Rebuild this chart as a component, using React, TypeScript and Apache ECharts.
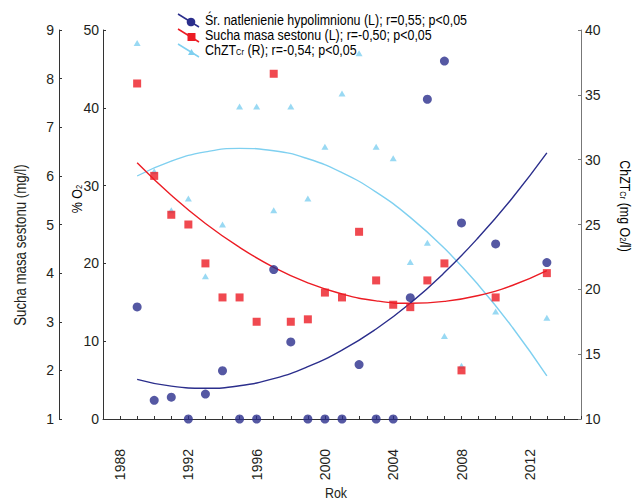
import React, { useEffect, useRef } from "react";
import * as echarts from "echarts";

const FONT = "'Liberation Sans', Arial, sans-serif";

// Measured data (years)
const years = [1989, 1990, 1991, 1992, 1993, 1994, 1995, 1996, 1997, 1998, 1999, 2000, 2001, 2002, 2003, 2004, 2005, 2006, 2007, 2008, 2010, 2013];
// Średnie natlenienie hypolimnionu, % O2 (left inner axis)
const oxygen = [14.4, 2.4, 2.8, 0, 3.2, 6.2, 0, 0, 19.2, 9.9, 0, 0, 0, 7.0, 0, 0, 15.6, 41.1, 46.0, 25.2, 22.5, 20.1];
// Sucha masa sestonu, mg/l (left outer axis)
const seston = [7.9, 6.0, 5.2, 5.0, 4.2, 3.5, 3.5, 3.0, 8.1, 3.0, 3.05, 3.6, 3.5, 4.85, 3.85, 3.35, 3.3, 3.85, 4.2, 2.0, 3.5, 4.0];
// ChZT_Cr, mg O2/l (right axis)
const codCr = [39.0, 29.1, 26.1, 27.0, 21.0, 25.0, 34.1, 34.1, 26.1, 34.1, 27.0, 31.0, 35.1, 38.2, 31.0, 30.1, 22.1, 23.6, 16.4, 14.1, 18.3, 17.8];

// Trend curves
const trendYears = [1989, 1991, 1993, 1995, 1997, 1999, 2001, 2003, 2005, 2007, 2009, 2011, 2013];
const oxygenTrend = [5.1, 4.22, 3.95, 4.27, 5.19, 6.72, 8.84, 11.57, 14.89, 18.82, 23.35, 28.47, 34.2];
const sestonTrend = [6.27, 5.6, 5.02, 4.53, 4.12, 3.8, 3.57, 3.43, 3.38, 3.42, 3.54, 3.75, 4.05];
const codTrend = [28.74, 29.89, 30.6, 30.87, 30.69, 30.07, 29.0, 27.5, 25.55, 23.16, 20.32, 17.04, 13.32];

// Axis tick labels shown on the year axis
const xTickYears = [1988, 1992, 1996, 2000, 2004, 2008, 2012];

const NAVY = "#2b2e8c";
const RED = "#ec1c24";
const SKY = "#7fd0f0";
const TXT = "#231f20";
const NARROW = 0.83;

const legendRows = [
  { text: "Śr. natlenienie hypolimnionu (L); r=0,55; p<0,05", color: NAVY, marker: "circle" },
  { text: "Sucha masa sestonu (L); r=-0,50; p<0,05", color: RED, marker: "rect" },
  { text: "{a|ChZT}{s|Cr}{a| (R); r=-0,54; p<0,05}", color: SKY, marker: "triangle" },
];

const pair = (xs: number[], ys: number[]) => xs.map((x, i) => [x, ys[i]]);

export default function App() {
  const ref = useRef<HTMLDivElement>(null);
  useEffect(() => {
    if (!ref.current) return;
    const chart = echarts.init(ref.current, undefined, { renderer: "svg" });

    const rich = {
      a: { fontSize: 15, fontFamily: FONT, color: TXT, lineHeight: 14 },
      s: { fontSize: 9, fontFamily: FONT, color: TXT, verticalAlign: "bottom", lineHeight: 14, padding: [6, 0, 0, 0] },
    };

    const legendGraphics: any[] = [];
    legendRows.forEach((r, i) => {
      const y = 20 + i * 15;
      legendGraphics.push({
        type: "line",
        shape: { x1: 178, y1: y - 6, x2: 199, y2: y + 7 },
        style: { stroke: r.color, lineWidth: 1.5 },
      });
      if (r.marker === "circle") {
        legendGraphics.push({ type: "circle", shape: { cx: 191, cy: y + 2, r: 4.3 }, style: { fill: r.color } });
      } else if (r.marker === "rect") {
        legendGraphics.push({ type: "rect", shape: { x: 187.5, y: y - 2, width: 8, height: 8 }, style: { fill: r.color } });
      } else {
        legendGraphics.push({
          type: "polygon",
          shape: { points: [[191.5, y - 1], [195, y + 5], [188, y + 5]] },
          style: { fill: r.color },
        });
      }
      legendGraphics.push({
        type: "text",
        x: 205,
        y: y,
        scaleX: NARROW,
        style: {
          text: i === 2 ? r.text : `{a|${r.text}}`,
          rich,
          textAlign: "left",
          textVerticalAlign: "middle",
        },
      });
    });

    const axisNames: any[] = [
      {
        type: "text",
        x: 21,
        y: 245,
        rotation: Math.PI / 2,
        scaleX: NARROW,
        style: { text: "Sucha masa sestonu (mg/l)", font: `16px ${FONT}`, fill: TXT, textAlign: "center", textVerticalAlign: "middle" },
      },
      {
        type: "text",
        x: 77,
        y: 199,
        rotation: Math.PI / 2,
        scaleX: NARROW,
        style: { text: "{a|% O}{s|2}", rich, textAlign: "center", textVerticalAlign: "middle" },
      },
      {
        type: "text",
        x: 625,
        y: 206,
        rotation: -Math.PI / 2,
        scaleX: NARROW,
        style: { text: "{a|ChZT}{s|Cr}{a| (mg O}{s|2}{a|/l)}", rich, textAlign: "center", textVerticalAlign: "middle" },
      },
      {
        type: "text",
        x: 336,
        y: 493,
        scaleX: NARROW,
        style: { text: "Rok", font: `15px ${FONT}`, fill: TXT, textAlign: "center", textVerticalAlign: "middle" },
      },
    ];

    const labelStyle = { fontSize: 14, fontFamily: FONT, color: TXT };

    chart.setOption({
      animation: false,
      backgroundColor: "#fff",
      textStyle: { fontFamily: FONT },
      grid: { left: 103, right: 53, top: 30, bottom: 82, containLabel: false, outerBoundsMode: "none" },
      xAxis: {
        type: "value",
        min: 1987,
        max: 2015,
        interval: 1,
        axisLine: { show: true, lineStyle: { color: "#333", width: 1 } },
        axisTick: { show: true, inside: true, length: 3, lineStyle: { color: "#333" } },
        splitLine: { show: false },
        axisLabel: {
          ...labelStyle,
          rotate: 90,
          margin: 30,
          formatter: (v: number) => (xTickYears.includes(v) ? String(v) : ""),
        },
      },
      yAxis: [
        {
          type: "value",
          position: "left",
          min: 0,
          max: 50,
          interval: 10,
          axisLine: { show: true, lineStyle: { color: "#333", width: 1 } },
          axisTick: { show: true, inside: true, length: 3, lineStyle: { color: "#333" } },
          splitLine: { show: false },
          axisLabel: { ...labelStyle, margin: 4 },
        },
        {
          type: "value",
          position: "left",
          offset: 44,
          min: 1,
          max: 9,
          interval: 1,
          axisLine: { show: true, lineStyle: { color: "#333", width: 1 } },
          axisTick: { show: true, inside: true, length: 3, lineStyle: { color: "#333" } },
          splitLine: { show: false },
          axisLabel: { ...labelStyle, margin: 5 },
        },
        {
          type: "value",
          position: "right",
          min: 10,
          max: 40,
          interval: 5,
          axisLine: { show: true, lineStyle: { color: "#777", width: 1 } },
          axisTick: { show: true, inside: true, length: 3, lineStyle: { color: "#777" } },
          splitLine: { show: false },
          axisLabel: { ...labelStyle, margin: 4 },
        },
      ],
      graphic: [...legendGraphics, ...axisNames],
      series: [
        {
          name: "ChZT trend",
          type: "line",
          yAxisIndex: 2,
          data: pair(trendYears, codTrend),
          smooth: true,
          showSymbol: false,
          lineStyle: { color: SKY, width: 1.4 },
          z: 2,
        },
        {
          name: "Sucha masa trend",
          type: "line",
          yAxisIndex: 1,
          data: pair(trendYears, sestonTrend),
          smooth: true,
          showSymbol: false,
          lineStyle: { color: RED, width: 1.4 },
          z: 2,
        },
        {
          name: "O2 trend",
          type: "line",
          yAxisIndex: 0,
          data: pair(trendYears, oxygenTrend),
          smooth: true,
          showSymbol: false,
          lineStyle: { color: NAVY, width: 1.4 },
          z: 2,
        },
        {
          name: "ChZT",
          type: "scatter",
          yAxisIndex: 2,
          data: pair(years, codCr),
          symbol: "triangle",
          symbolSize: [7, 6],
          itemStyle: { color: SKY },
          z: 3,
        },
        {
          name: "Sucha masa sestonu",
          type: "scatter",
          yAxisIndex: 1,
          data: pair(years, seston),
          symbol: "rect",
          symbolSize: 8,
          itemStyle: { color: RED },
          z: 3,
        },
        {
          name: "Śr. natlenienie hypolimnionu",
          type: "scatter",
          yAxisIndex: 0,
          data: pair(years, oxygen),
          symbol: "circle",
          symbolSize: 9,
          clip: false,
          itemStyle: { color: NAVY },
          z: 4,
        },
      ],
    });
    return () => chart.dispose();
  }, []);
  return <div ref={ref} style={{ width: 634, height: 501, position: "absolute", left: 0, top: 0 }} />;
}
